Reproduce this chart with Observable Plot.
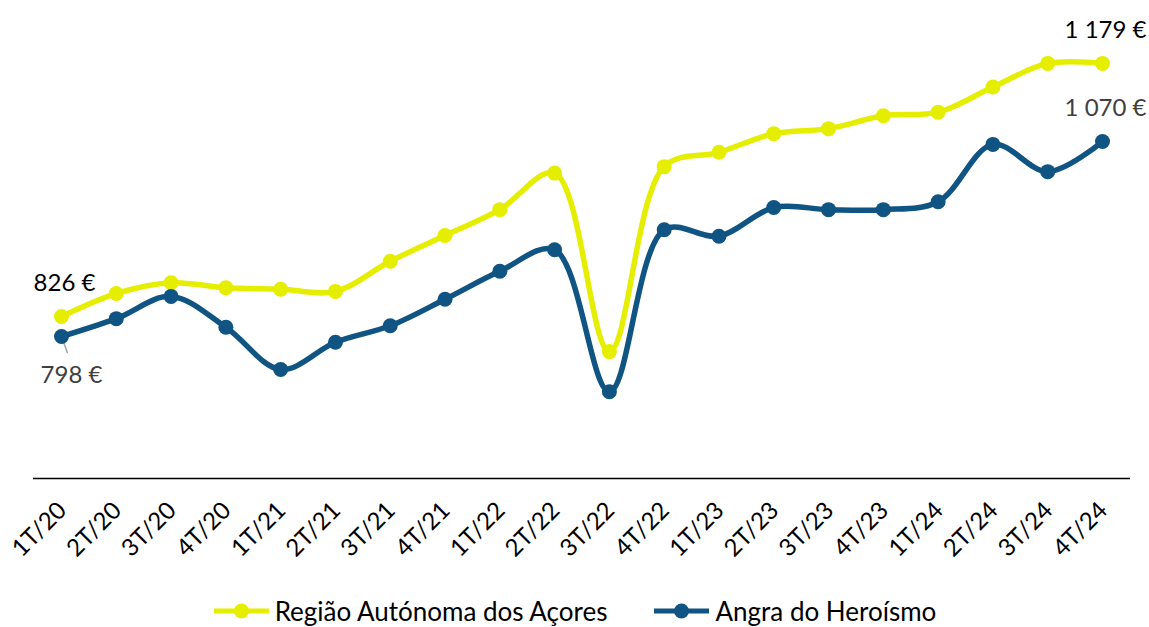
<!DOCTYPE html>
<html>
<head>
<meta charset="utf-8">
<script src="https://cdn.jsdelivr.net/npm/d3@7"></script>
<script src="https://cdn.jsdelivr.net/npm/@observablehq/plot@0.6"></script>
<style>
  html, body { margin: 0; padding: 0; background: #fff; }
  #chart { width: 1149px; height: 592px; }
  .legend { display: flex; justify-content: center; align-items: center; height: 37px; width: 1149px; font-family: Lato, sans-serif; font-size: 26px; line-height: 30px; color: #000; }
  .legend .item { display: flex; align-items: center; }
  .legend .item + .item { margin-left: 46px; }
  .legend svg { margin-right: 5px; }
</style>
</head>
<body>
<div id="chart"></div>
<script>
const quarters = ["1T/20","2T/20","3T/20","4T/20","1T/21","2T/21","3T/21","4T/21","1T/22","2T/22","3T/22","4T/22","1T/23","2T/23","3T/23","4T/23","1T/24","2T/24","3T/24","4T/24"];
const seriesNames = ["Região Autónoma dos Açores", "Angra do Heroísmo"];
const seriesColors = ["#E6EE00", "#0F5482"];
const acores = [826, 858, 873, 866, 864, 861, 903, 939, 975, 1026, 777, 1035, 1055, 1081, 1088, 1106, 1111, 1146, 1179, 1179];
const angra  = [798, 823, 854, 811, 752, 790, 813, 850, 889, 919, 721, 947, 938, 978, 975, 975, 986, 1066, 1028, 1070];
const yDomain = [600, 1250];

const rows = quarters.flatMap((q, i) => [
  {q, s: seriesNames[0], v: acores[i]},
  {q, s: seriesNames[1], v: angra[i]}
]);

const fmt = v => d3.format(",")(v).replace(/,/g, "\u00a0") + "\u00a0€";
const first = quarters[0], last = quarters[quarters.length - 1];
const labelsAbove = [
  {q: first, v: acores[0], t: fmt(acores[0]), c: "#000000"},
  {q: last, v: acores[acores.length - 1], t: fmt(acores[acores.length - 1]), c: "#000000"},
  {q: last, v: angra[angra.length - 1], t: fmt(angra[angra.length - 1]), c: "#404040"}
];
const labelBelow = [{q: first, v: angra[0], t: fmt(angra[0]), c: "#404040"}];

const lineShape = { draw(context, l) { context.moveTo(0, 0); context.lineTo(0, -l); } };

const chart = Plot.plot({
  width: 1149,
  height: 592,
  marginLeft: 61,
  marginRight: 47,
  marginTop: 12,
  marginBottom: 114,
  x: {type: "point", domain: quarters, padding: 0, round: false, axis: null},
  y: {domain: yDomain, axis: null},
  color: {domain: seriesNames, range: seriesColors},
  style: {fontFamily: "Lato, sans-serif", background: "white", overflow: "visible"},
  marks: [
    Plot.ruleY([yDomain[0]], {stroke: "#000", strokeWidth: 1.5, insetLeft: -28, insetRight: -28}),
    Plot.text(quarters, {x: d => d, frameAnchor: "bottom", dy: 28, dx: 1, rotate: -45, textAnchor: "end", lineAnchor: "middle", fontSize: 24, fill: "#000"}),
    Plot.line(rows, {x: "q", y: "v", z: "s", stroke: "s", curve: "catmull-rom", strokeWidth: 5.5}),
    Plot.vector(labelBelow, {x: "q", y: "v", length: 17, rotate: 160, anchor: "start", stroke: "#a6a6a6", strokeWidth: 1.5, shape: lineShape}),
    Plot.dot(rows, {x: "q", y: "v", fill: "s", r: 7.5}),
    Plot.text(labelsAbove, {x: "q", y: "v", text: "t", fill: "c", dy: -33, dx: 3, fontSize: 24}),
    Plot.text(labelBelow, {x: "q", y: "v", text: "t", fill: "c", dy: 39, dx: 10, fontSize: 24})
  ]
});
document.getElementById("chart").appendChild(chart);

const legend = document.createElement("div");
legend.className = "legend";
seriesNames.forEach((name, i) => {
  const item = document.createElement("div");
  item.className = "item";
  item.innerHTML = `<svg width="57" height="20"><line x1="1" x2="56" y1="10" y2="10" stroke="${seriesColors[i]}" stroke-width="5"/><circle cx="28.5" cy="10" r="7.5" fill="${seriesColors[i]}"/></svg><span>${name}</span>`;
  legend.appendChild(item);
});
document.body.appendChild(legend);
</script>
</body>
</html>
